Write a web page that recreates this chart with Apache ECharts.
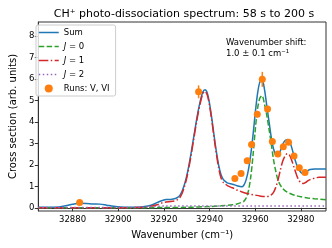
<!DOCTYPE html>
<html><head><meta charset="utf-8">
<script src="https://cdn.jsdelivr.net/npm/echarts@6/dist/echarts.min.js"></script>
<style>html,body{margin:0;padding:0;background:#fff}#c{width:332px;height:248px}</style>
</head><body><div id="c"></div>
<script>
// Sum (blue solid)
const sumX = [32865,32870,32874,32877,32880,32883,32886,32889,32892,32895,32898,32901,32905,32910,32913,32915,32917,32919,32921,32923,32925,32926,32927,32928,32929,32930,32931,32932,32933,32934,32935,32936,32937,32938,32939,32940,32941,32942,32943,32944,32945,32946,32947,32948,32950,32952,32954,32955,32956,32957,32958,32959,32960,32961,32962,32963,32964,32965,32966,32967,32968,32969,32970,32971,32972,32973,32974,32975,32976,32977,32978,32979,32980,32981,32982,32983,32984,32986,32988,32991];
const sumY = [0.02,0.02,0.04,0.09,0.16,0.21,0.2,0.18,0.17,0.12,0.07,0.04,0.03,0.04,0.08,0.14,0.24,0.33,0.38,0.39,0.43,0.48,0.58,0.78,1.08,1.48,2.0,2.6,3.25,3.9,4.5,5.0,5.38,5.5,5.35,4.85,4.15,3.35,2.6,1.97,1.55,1.32,1.22,1.15,1.1,1.03,0.98,1.05,1.3,1.75,2.45,3.35,4.4,5.3,5.85,5.95,5.55,4.8,4.05,3.3,2.75,2.45,2.42,2.65,2.95,3.12,3.18,3.1,2.8,2.4,2.05,1.8,1.65,1.6,1.65,1.72,1.78,1.8,1.8,1.8];
// J = 0 (green dashed)
const j0X = [32865,32900,32920,32930,32940,32945,32950,32952,32954,32955,32956,32957,32958,32959,32960,32961,32962,32963,32964,32965,32966,32967,32968,32969,32970,32971,32972,32973,32974,32976,32978,32980,32983,32986,32991];
const j0Y = [0,0,0.01,0.02,0.06,0.09,0.14,0.18,0.25,0.3,0.45,0.78,1.4,2.4,3.6,4.6,5.1,5.22,4.85,4.35,3.7,3.0,2.25,1.7,1.28,1.05,0.9,0.8,0.73,0.63,0.56,0.51,0.46,0.42,0.37];
// J = 1 (red dash-dot)
const j1X = [32865,32880,32900,32908,32912,32915,32917,32919,32921,32923,32925,32926,32927,32928,32929,32930,32931,32932,32933,32934,32935,32936,32937,32938,32939,32940,32941,32942,32943,32944,32945,32946,32947,32948,32950,32952,32954,32956,32958,32960,32962,32964,32965,32966,32967,32968,32969,32970,32971,32972,32973,32974,32975,32976,32977,32978,32979,32980,32981,32982,32983,32984,32986,32988,32991];
const j1Y = [0,0,0,0.01,0.03,0.08,0.14,0.22,0.27,0.29,0.33,0.38,0.48,0.68,0.98,1.38,1.9,2.5,3.15,3.8,4.4,4.9,5.3,5.42,5.25,4.75,4.05,3.25,2.5,1.85,1.4,1.18,1.1,1.02,0.93,0.83,0.75,0.68,0.63,0.59,0.55,0.52,0.52,0.54,0.6,0.72,0.95,1.3,1.75,2.15,2.4,2.52,2.45,2.2,1.88,1.56,1.3,1.17,1.13,1.17,1.25,1.31,1.38,1.42,1.42];
// J = 2 (purple dotted)
const j2X = [32865,32905,32912,32916,32920,32991];
const j2Y = [0.01,0.01,0.03,0.06,0.08,0.08];
// Runs: V, VI (orange points with error bars)
const runX = [32883.1,32935.2,32951.1,32953.8,32956.5,32958.4,32960.9,32963.1,32965.4,32967.5,32969.9,32972.3,32974.6,32977.0,32979.3,32981.8];
const runY = [0.25,5.4,1.36,1.6,2.19,2.95,4.36,5.98,4.6,3.09,2.5,2.84,3.05,2.41,1.86,1.64];
const runErr = [0.05,0.3,0.1,0.1,0.1,0.12,0.15,0.35,0.15,0.12,0.1,0.1,0.12,0.1,0.08,0.08];
const xTickLabels = ['32880','32900','32920','32940','32960','32980'];
const yTickLabels = ['0','1','2','3','4','5','6','7','8'];

const zip = (a, b) => a.map((v, i) => [v, b[i]]);
const F = 'DejaVu Sans';
const C = {sum: '#1f77b4', j0: '#2ca02c', j1: '#d62728', j2: '#9467bd', run: '#ff7f0e'};
const chart = echarts.init(document.getElementById('c'), null, {renderer: 'canvas'});
const names = {Sum: 'Sum', J0: '{i|J} = 0', J1: '{i|J} = 1', J2: '{i|J} = 2', Runs: 'Runs: V, VI'};
const hideSym = {opacity: 0};
chart.setOption({
  animation: false,
  title: {
    text: 'CH⁺ photo-dissociation spectrum: 58 s to 200 s',
    left: 179, top: 4, textAlign: 'center',
    textStyle: {fontFamily: F, fontSize: 11, fontWeight: 'normal', color: '#000'}
  },
  grid: {left: 32, right: 6, top: 22, bottom: 37, show: true, borderColor: '#333', borderWidth: 1},
  legend: {
    orient: 'vertical', left: 36, top: 25, padding: [3, 6, 3, 2],
    itemWidth: 20, itemHeight: 8, itemGap: 5,
    borderColor: '#ccc', borderWidth: 1, borderRadius: 2, backgroundColor: 'rgba(255,255,255,0.8)',
    data: [
      {name: 'Sum', itemStyle: hideSym, lineStyle: {color: C.sum, width: 1.5}},
      {name: 'J0', itemStyle: hideSym, lineStyle: {color: C.j0, width: 1.5, type: [5.5, 2.4]}},
      {name: 'J1', itemStyle: hideSym, lineStyle: {color: C.j1, width: 1.5, type: [9.6, 2.4, 1.5, 2.4]}},
      {name: 'J2', itemStyle: hideSym, lineStyle: {color: C.j2, width: 1.5, type: [1.5, 2.5]}},
      {name: 'Runs'}
    ],
    formatter: n => names[n],
    textStyle: {fontFamily: F, fontSize: 8.5, color: '#000', rich: {i: {fontFamily: F, fontSize: 8.5, fontStyle: 'italic'}}}
  },
  xAxis: {
    type: 'value', min: 32865, max: 32991, splitNumber: 6,
    name: 'Wavenumber (cm⁻¹)', nameLocation: 'middle', nameGap: 19,
    nameTextStyle: {fontFamily: F, fontSize: 10, color: '#000'},
    axisLine: {lineStyle: {color: '#333'}},
    axisTick: {length: 3.5, lineStyle: {color: '#333'}},
    axisLabel: {fontFamily: F, fontSize: 8.5, color: '#000', margin: 4, showMinLabel: false, showMaxLabel: false,
      formatter: v => xTickLabels.includes(String(v)) ? String(v) : ''},
    splitLine: {show: false}
  },
  yAxis: {
    type: 'value', min: -0.15, max: 8.65, splitNumber: 8,
    name: 'Cross section (arb. units)', nameLocation: 'middle', nameGap: 15,
    nameTextStyle: {fontFamily: F, fontSize: 10, color: '#000'},
    axisLine: {show: true, lineStyle: {color: '#333'}},
    axisTick: {show: true, length: 3.5, lineStyle: {color: '#333'}},
    axisLabel: {fontFamily: F, fontSize: 8.5, color: '#000', margin: 4, showMinLabel: false, showMaxLabel: false,
      formatter: v => yTickLabels.includes(String(v)) ? String(v) : ''},
    splitLine: {show: false}
  },
  graphic: [{
    type: 'text', left: 226, top: 37,
    style: {text: 'Wavenumber shift:\n1.0 ± 0.1 cm⁻¹', fontFamily: F, fontSize: 8.5, lineHeight: 11, fill: '#000'}
  }],
  series: [
    {name: 'Sum', type: 'line', data: zip(sumX, sumY), symbol: 'none', smooth: 0.3, z: 3,
      lineStyle: {color: C.sum, width: 1.5}, itemStyle: {color: C.sum}},
    {name: 'J0', type: 'line', data: zip(j0X, j0Y), symbol: 'none', smooth: 0.3, z: 4,
      lineStyle: {color: C.j0, width: 1.5, type: [5.5, 2.4]}, itemStyle: {color: C.j0}},
    {name: 'J1', type: 'line', data: zip(j1X, j1Y), symbol: 'none', smooth: 0.3, z: 4,
      lineStyle: {color: C.j1, width: 1.5, type: [9.6, 2.4, 1.5, 2.4]}, itemStyle: {color: C.j1}},
    {name: 'J2', type: 'line', data: zip(j2X, j2Y), symbol: 'none', smooth: 0.3, z: 4,
      lineStyle: {color: C.j2, width: 1.5, type: [1.5, 2.5]}, itemStyle: {color: C.j2}},
    {type: 'custom', z: 5, data: runX.map((x, i) => [x, runY[i], runErr[i]]),
      renderItem: (params, api) => {
        const a = api.coord([api.value(0), api.value(1) - api.value(2)]);
        const b = api.coord([api.value(0), api.value(1) + api.value(2)]);
        return {type: 'line', shape: {x1: a[0], y1: a[1], x2: b[0], y2: b[1]}, style: {stroke: C.run, lineWidth: 1.5}};
      }},
    {name: 'Runs', type: 'scatter', data: zip(runX, runY), symbol: 'circle', symbolSize: 7, z: 6,
      itemStyle: {color: C.run, opacity: 1}}
  ]
});
</script></body></html>
